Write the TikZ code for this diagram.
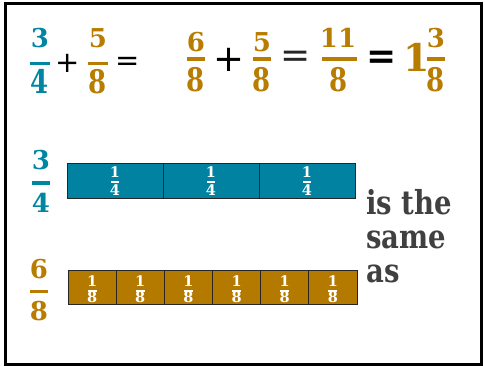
\documentclass[tikz,border=0pt]{standalone}
\usepackage{fontspec}
\setmainfont{DejaVu Serif}
\newfontfamily\opfont{DejaVu Sans}
\usepackage{graphicx}
\definecolor{tealc}{RGB}{0,133,162}
\definecolor{tealfill}{RGB}{0,130,160}
\definecolor{goldc}{RGB}{183,124,0}
\definecolor{goldfill}{RGB}{180,122,0}
\definecolor{wordc}{RGB}{64,64,64}
\newcommand\tallden[1]{\scalebox{1}[1.25]{#1}}
\newcommand\tallword[1]{\scalebox{1}[1.2]{#1}}
\tikzset{
  topnum/.style={inner sep=0pt, anchor=base, font=\bfseries\fontsize{26}{26}\selectfont},
  midnum/.style={inner sep=0pt, anchor=base, font=\bfseries\fontsize{26}{26}\selectfont},
  bignum/.style={inner sep=0pt, anchor=base, font=\bfseries\fontsize{38}{38}\selectfont},
  fbar/.style={line width=3.3pt},
  opsign/.style={inner sep=0pt, anchor=center},
  cellnum/.style={inner sep=0pt, anchor=base, text=white, font=\bfseries\fontsize{14.5}{14.5}\selectfont},
  cbar/.style={draw=white, line width=1.2pt},
  tcell/.style={draw=black!85, line width=0.9pt, fill=tealfill, minimum width=96pt, minimum height=35pt, inner sep=0pt},
  gcell/.style={draw=black!85, line width=0.9pt, fill=goldfill, minimum width=48.17pt, minimum height=34pt, inner sep=0pt},
  word/.style={inner sep=0pt, anchor=base west, text=wordc, font=\bfseries\fontsize{27.5}{27.5}\selectfont},
}
\begin{document}
\begin{tikzpicture}[x=1pt,y=-1pt]
\useasboundingbox (0,0) rectangle (485,366);
\draw[line width=3pt] (5,3.5) rectangle (481.5,364.5);

% ---- top row: 3/4 + 5/8 =
\node[topnum, text=tealc] (a1n) at (40,48) {3};
\draw[fbar, tealc] (30,63.3) -- (50,63.3);
\node[topnum, text=tealc] (a1d) at (40,94) {\tallden{4}};
\node[opsign, font=\opfont\fontsize{29}{29}\selectfont] (p1) at (68,63) {+};
\node[topnum, text=goldc] (a2n) at (98,48) {5};
\draw[fbar, goldc] (88,63.3) -- (108,63.3);
\node[topnum, text=goldc] (a2d) at (98,94) {\tallden{8}};
\node[opsign, font=\opfont\fontsize{29}{29}\selectfont] (e1) at (128,63.5) {=};

% ---- 6/8 + 5/8 = 11/8 = 1 3/8
\node[topnum, text=goldc] (b1n) at (196,52) {6};
\draw[fbar, goldc] (187,59) -- (205,59);
\node[topnum, text=goldc] (b1d) at (196,92) {\tallden{8}};
\node[opsign, font=\opfont\fontsize{37}{37}\selectfont] (p2) at (229,60) {+};
\node[topnum, text=goldc] (b2n) at (262,51.5) {5};
\draw[fbar, goldc] (253,59) -- (271,59);
\node[topnum, text=goldc] (b2d) at (262,92) {\tallden{8}};
\node[opsign, text=black!85, font=\opfont\fontsize{36}{36}\selectfont] (e2) at (296,59) {=};
\node[topnum, text=goldc] (b3n) at (338,48) {11};
\draw[fbar, goldc] (322,59) -- (357,59);
\node[topnum, text=goldc] (b3d) at (339,92) {\tallden{8}};
\node[opsign, font=\opfont\bfseries\fontsize{36}{36}\selectfont] (e3) at (382,60) {=};
\node[bignum, text=goldc] (w1) at (416.5,72) {1};
\node[topnum, text=goldc] (b4n) at (436,48) {3};
\draw[fbar, goldc] (427,59) -- (445,59);
\node[topnum, text=goldc] (b4d) at (436,92) {\tallden{8}};

% ---- middle: 3/4 bar
\node[midnum, text=tealc] (m1n) at (41,170) {3};
\draw[fbar, tealc] (32,183) -- (50,183);
\node[midnum, text=tealc] (m1d) at (41,213) {4};
\foreach \i in {0,1,2} {
  \pgfmathsetmacro\cx{115+96*\i}
  \node[tcell] (t\i) at (\cx,180.5) {};
  \node[cellnum] (t\i n) at (\cx,178) {1};
  \draw[cbar] (\cx-4,182) -- (\cx+4,182);
  \node[cellnum] (t\i d) at (\cx,195.5) {4};
}

% ---- bottom: 6/8 bar
\node[midnum, text=goldc] (g1n) at (39,279) {6};
\draw[fbar, goldc] (30,291.5) -- (48,291.5);
\node[midnum, text=goldc] (g1d) at (39,320) {8};
\foreach \i in {0,...,5} {
  \pgfmathsetmacro\cx{68+24.08+48.17*\i}
  \node[gcell] (g\i) at (\cx,287) {};
  \node[cellnum] (g\i n) at (\cx,287) {1};
  \draw[cbar] (\cx-4.5,291) -- (\cx+4.5,291);
  \node[cellnum] (g\i d) at (\cx,302.5) {8};
}

% ---- words
\node[word] (s1) at (366,215) {\tallword{is the}};
\node[word] (s2) at (366,249) {\tallword{same}};
\node[word] (s3) at (366,283) {\tallword{as}};
\end{tikzpicture}
\end{document}
